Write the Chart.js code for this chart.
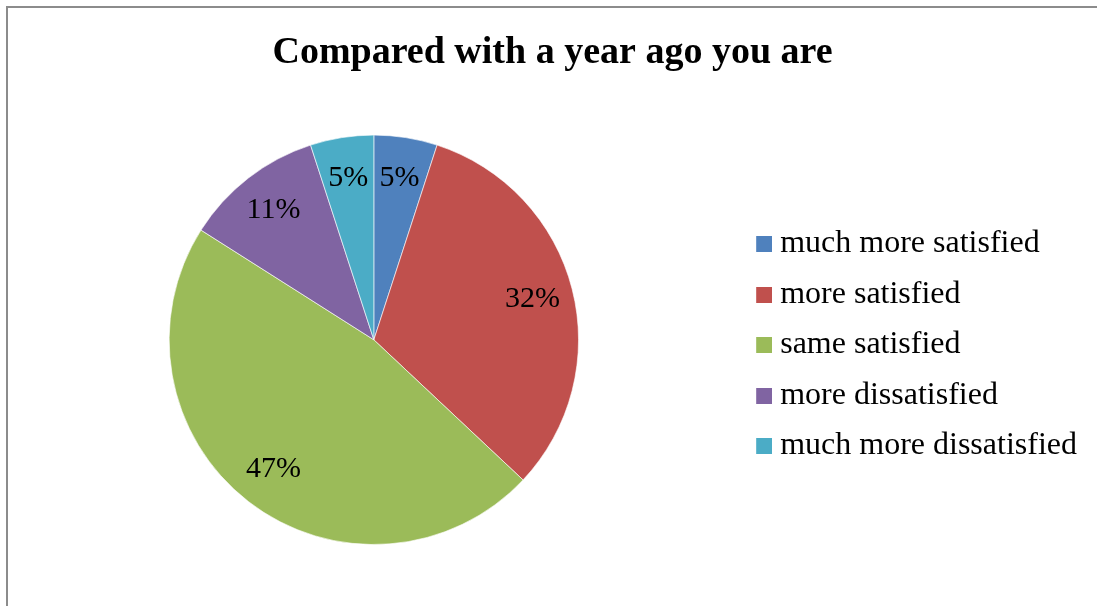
<!DOCTYPE html>
<html>
<head>
<meta charset="utf-8">
<title>Compared with a year ago you are</title>
<script src="https://cdn.jsdelivr.net/npm/chart.js@4/dist/chart.umd.min.js"></script>
<style>
  html, body { margin: 0; padding: 0; background: #fff; overflow: hidden; }
  .frame {
    position: absolute; left: 6px; top: 6px;
    width: 2000px; height: 2000px;
    border: 2px solid #8c8c8c;
  }
  .wrap { position: absolute; left: 0; top: 0; width: 1097px; height: 606px; }
</style>
</head>
<body>
<div class="frame"></div>
<div class="wrap"><canvas id="myChart" width="1097" height="606"></canvas></div>
<script>
// Survey answers and their share of respondents (%)
var answers = ['much more satisfied', 'more satisfied', 'same satisfied', 'more dissatisfied', 'much more dissatisfied'];
var shares = [5, 32, 47, 11, 5];
var sliceColors = ['#4F81BD', '#C0504D', '#9BBB59', '#8064A2', '#4BACC6'];

var serif = "'Liberation Serif', 'Times New Roman', serif";

// Legend swatch: 16px square sitting in the right half of a 32px canvas,
// so it ends up closer to the label text
function swatch(color) {
    var c = document.createElement('canvas');
    c.width = 32;
    c.height = 16;
    var g = c.getContext('2d');
    g.fillStyle = color;
    g.fillRect(16, 0, 16, 16);
    return c;
}
var swatches = sliceColors.map(swatch);

// Percentage text inside each slice
var sliceLabels = {
    id: 'sliceLabels',
    afterDatasetsDraw: function (chart) {
        var ctx = chart.ctx;
        var meta = chart.getDatasetMeta(0);
        ctx.save();
        ctx.font = '30px ' + serif;
        ctx.fillStyle = '#000';
        ctx.textAlign = 'center';
        ctx.textBaseline = 'middle';
        meta.data.forEach(function (arc, i) {
            var p = arc.getProps(['x', 'y', 'startAngle', 'endAngle', 'outerRadius'], true);
            var mid = (p.startAngle + p.endAngle) / 2;
            var r = p.outerRadius * 0.8;
            ctx.fillText(shares[i] + '%', p.x + Math.cos(mid) * r, p.y + Math.sin(mid) * r);
        });
        ctx.restore();
    }
};

var ctx = document.getElementById('myChart').getContext('2d');
var myChart = new Chart(ctx, {
    type: 'pie',
    data: {
        labels: answers,
        datasets: [{
            data: shares,
            backgroundColor: sliceColors,
            borderColor: 'rgba(255, 255, 255, 0.6)',
            borderWidth: 1
        }]
    },
    options: {
        responsive: false,
        animation: false,
        layout: {
            padding: { top: 10, bottom: 61, left: 18, right: 10 }
        },
        plugins: {
            title: {
                display: true,
                text: 'Compared with a year ago you are',
                color: '#000',
                font: { family: serif, size: 38, weight: 'bold' },
                padding: { top: 20, bottom: 59 }
            },
            legend: {
                position: 'right',
                // empty title only pushes the entries down
                title: {
                    display: true,
                    text: ' ',
                    font: { size: 10 },
                    padding: { top: 0, bottom: 123 }
                },
                labels: {
                    color: '#000',
                    font: { family: serif, size: 32 },
                    usePointStyle: true,
                    pointStyleWidth: 16,
                    boxHeight: 16,
                    padding: 18.5,
                    generateLabels: function (chart) {
                        var items = Chart.overrides.pie.plugins.legend.labels.generateLabels(chart);
                        items.forEach(function (item, i) {
                            item.pointStyle = swatches[i];
                        });
                        return items;
                    }
                }
            },
            tooltip: { enabled: false }
        }
    },
    plugins: [sliceLabels]
});
</script>
</body>
</html>
